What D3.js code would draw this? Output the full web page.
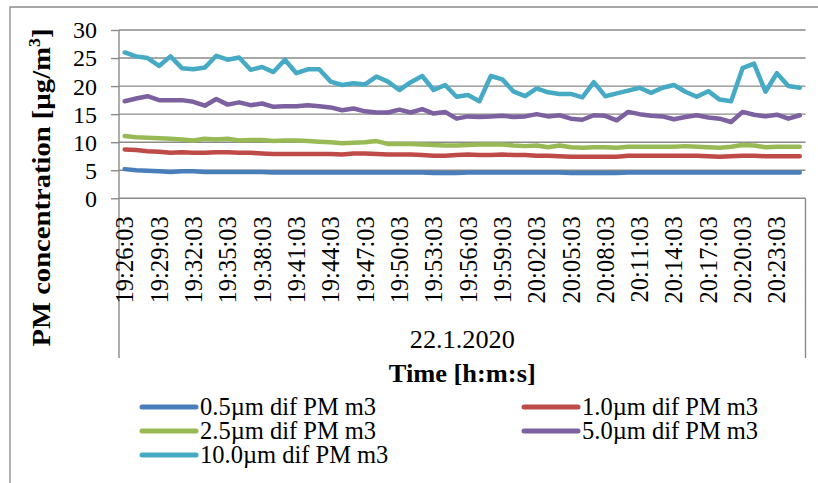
<!DOCTYPE html>
<html><head><meta charset="utf-8">
<script src="https://cdn.jsdelivr.net/npm/d3@7"></script>
<style>
html,body{margin:0;padding:0;background:#fff;}
svg{display:block;font-family:"Liberation Serif","Times New Roman",serif;}
</style></head>
<body><svg id="chart" width="818" height="483"></svg>
<script>
const categories = ["19:26:03","19:27:03","19:28:03","19:29:03","19:30:03","19:31:03","19:32:03","19:33:03","19:34:03","19:35:03",
"19:36:03","19:37:03","19:38:03","19:39:03","19:40:03","19:41:03","19:42:03","19:43:03","19:44:03","19:45:03",
"19:46:03","19:47:03","19:48:03","19:49:03","19:50:03","19:51:03","19:52:03","19:53:03","19:54:03","19:55:03",
"19:56:03","19:57:03","19:58:03","19:59:03","20:00:03","20:01:03","20:02:03","20:03:03","20:04:03","20:05:03",
"20:06:03","20:07:03","20:08:03","20:09:03","20:10:03","20:11:03","20:12:03","20:13:03","20:14:03","20:15:03",
"20:16:03","20:17:03","20:18:03","20:19:03","20:20:03","20:21:03","20:22:03","20:23:03","20:24:03","20:25:03"];
const tickLabels = ["19:26:03","19:29:03","19:32:03","19:35:03","19:38:03","19:41:03","19:44:03","19:47:03","19:50:03","19:53:03",
"19:56:03","19:59:03","20:02:03","20:05:03","20:08:03","20:11:03","20:14:03","20:17:03","20:20:03","20:23:03"];
const yTicks = [0,5,10,15,20,25,30];
const groupLabel = "22.1.2020";

const pm05 = [5.2,5.0,4.9,4.8,4.7,4.8,4.8,4.7,4.7,4.7, 4.7,4.7,4.7,4.6,4.6,4.6,4.6,4.6,4.6,4.6,
4.6,4.6,4.6,4.6,4.6,4.6,4.6,4.5,4.5,4.5, 4.6,4.6,4.6,4.6,4.6,4.6,4.6,4.6,4.6,4.5,
4.5,4.5,4.5,4.5,4.6,4.6,4.6,4.6,4.6,4.6, 4.6,4.6,4.6,4.6,4.6,4.6,4.6,4.6,4.6,4.6];
const pm10 = [8.7,8.6,8.4,8.3,8.1,8.2,8.1,8.1,8.2,8.2, 8.1,8.1,8.0,7.9,7.9,7.9,7.9,7.9,7.9,7.8,
8.0,8.0,7.9,7.8,7.8,7.8,7.7,7.6,7.6,7.7, 7.8,7.7,7.7,7.8,7.7,7.7,7.6,7.6,7.5,7.4,
7.4,7.4,7.4,7.4,7.6,7.6,7.6,7.6,7.6,7.6, 7.6,7.5,7.4,7.5,7.6,7.6,7.5,7.5,7.5,7.5];
const pm25 = [11.1,10.9,10.8,10.7,10.6,10.5,10.3,10.6,10.5,10.6, 10.3,10.4,10.4,10.2,10.3,10.3,10.2,10.1,10.0,9.8,
9.9,10.0,10.2,9.7,9.7,9.7,9.6,9.5,9.4,9.4, 9.5,9.6,9.6,9.6,9.4,9.3,9.4,9.1,9.4,9.1,
9.0,9.1,9.1,9.0,9.2,9.2,9.2,9.2,9.2,9.3, 9.2,9.1,9.0,9.2,9.5,9.4,9.1,9.2,9.2,9.2];
const pm50 = [17.3,17.8,18.2,17.5,17.5,17.5,17.2,16.5,17.7,16.7, 17.1,16.6,16.9,16.3,16.4,16.4,16.6,16.4,16.2,15.7,
16.0,15.5,15.3,15.3,15.8,15.3,15.9,15.1,15.4,14.2, 14.6,14.5,14.6,14.7,14.5,14.6,15.0,14.6,14.8,14.2,
14.0,14.8,14.7,13.9,15.4,15.0,14.7,14.6,14.1,14.5, 14.8,14.4,14.2,13.6,15.4,14.9,14.6,14.9,14.2,14.8];
const pm100 = [26.0,25.3,25.0,23.6,25.3,23.2,23.0,23.3,25.4,24.7, 25.1,22.9,23.4,22.5,24.7,22.3,23.0,23.0,20.8,20.2,
20.5,20.3,21.7,20.8,19.3,20.7,21.8,19.3,20.2,18.1, 18.4,17.3,21.8,21.2,19.0,18.2,19.6,18.9,18.6,18.6,
18.0,20.7,18.2,18.7,19.2,19.7,18.8,19.7,20.2,19.0, 18.1,19.1,17.6,17.3,23.2,24.0,19.0,22.3,20.0,19.7];

const seriesNames = ["0.5µm dif PM m3","1.0µm dif PM m3","2.5µm dif PM m3","5.0µm dif PM m3","10.0µm dif PM m3"];
const seriesValues = [pm05, pm10, pm25, pm50, pm100];
const seriesColors = ["#4A7EBB","#BE4B48","#98B954","#7D60A0","#46AAC5"];

const svg = d3.select("#chart");
const L = 119, R = 805.5, T = 30, B = 198.3;
const gray = "#8a8a8a";

// outer chart border (left and top visible)
svg.append("path").attr("d", "M10,483 L10,7 L818,7").attr("fill","none").attr("stroke", gray).attr("stroke-width",1.3);

const x = d3.scaleBand().domain(categories).range([L, R]).paddingInner(0).paddingOuter(0);
const y = d3.scaleLinear().domain([0, 30]).range([B, T]);

// gridlines
svg.append("g").selectAll("line").data(yTicks).join("line")
  .attr("x1", L).attr("x2", R).attr("y1", d => y(d)).attr("y2", d => y(d))
  .attr("stroke", gray).attr("stroke-width", 1.4);

// y axis
const yAxis = svg.append("g").attr("transform", `translate(${L},0)`)
  .call(d3.axisLeft(y).tickValues(yTicks).tickSize(8).tickPadding(14).tickFormat(d3.format("d")));
yAxis.select(".domain").remove();
yAxis.selectAll(".tick line").attr("stroke", gray).attr("stroke-width", 1.4);
yAxis.selectAll(".tick text").attr("font-size", 24).attr("fill", "#000")
  .attr("font-family", "Liberation Serif, serif").attr("dy", "0.33em");

// vertical axis line and category group brackets
svg.append("line").attr("x1", L).attr("x2", L).attr("y1", T).attr("y2", 358).attr("stroke", gray).attr("stroke-width", 1.4);
svg.append("line").attr("x1", R).attr("x2", R).attr("y1", B).attr("y2", 358).attr("stroke", gray).attr("stroke-width", 1.4);

// x axis labels
const xAxis = svg.append("g").attr("transform", `translate(0,${B})`)
  .call(d3.axisBottom(x).tickValues(tickLabels).tickSize(0));
xAxis.select(".domain").remove();
xAxis.selectAll(".tick text")
  .attr("font-size", 24.5).attr("font-family", "Liberation Serif, serif").attr("fill", "#000")
  .attr("transform", "rotate(-90)").attr("text-anchor", "end")
  .attr("x", -18).attr("y", 0).attr("dy", "0.35em");

// group label and axis title
svg.append("text").attr("x", (L + R) / 2).attr("y", 348).attr("text-anchor", "middle")
  .attr("font-size", 24.5).attr("textLength", 105).attr("lengthAdjust", "spacingAndGlyphs").text(groupLabel);
svg.append("text").attr("x", (L + R) / 2).attr("y", 382).attr("text-anchor", "middle")
  .attr("font-size", 24.5).attr("font-weight", "bold").attr("textLength", 147).attr("lengthAdjust", "spacingAndGlyphs").text("Time [h:m:s]");

const yt = svg.append("text").attr("transform", "translate(50,187.5) rotate(-90)").attr("text-anchor", "middle")
  .attr("font-size", 25.5).attr("font-weight", "bold").attr("textLength", 318).attr("lengthAdjust", "spacingAndGlyphs");
yt.append("tspan").text("PM concentration [µg/m");
yt.append("tspan").attr("font-size", 16).attr("dy", -10).text("3");
yt.append("tspan").attr("dy", 10).text("]");

// lines
const line = d3.line().x((d, i) => x(categories[i]) + x.bandwidth() / 2).y(d => y(d));
svg.append("g").selectAll("path").data(seriesValues).join("path")
  .attr("d", d => line(d)).attr("fill", "none")
  .attr("stroke", (d, i) => seriesColors[i]).attr("stroke-width", 4.5)
  .attr("stroke-linejoin", "round").attr("stroke-linecap", "round");

// legend
const legendPos = [[142, 415],[524, 415],[142, 439],[524, 439],[142, 463]];
const lg = svg.append("g").selectAll("g").data(seriesNames).join("g")
  .attr("transform", (d, i) => `translate(${legendPos[i][0]},${legendPos[i][1]})`);
lg.append("line").attr("x1", 0).attr("x2", 54).attr("y1", -8).attr("y2", -8)
  .attr("stroke", (d, i) => seriesColors[i]).attr("stroke-width", 5).attr("stroke-linecap", "round");
lg.append("text").attr("x", 58).attr("y", 0).attr("font-size", 24.5).attr("fill", "#000").text(d => d);
</script>
</body></html>
